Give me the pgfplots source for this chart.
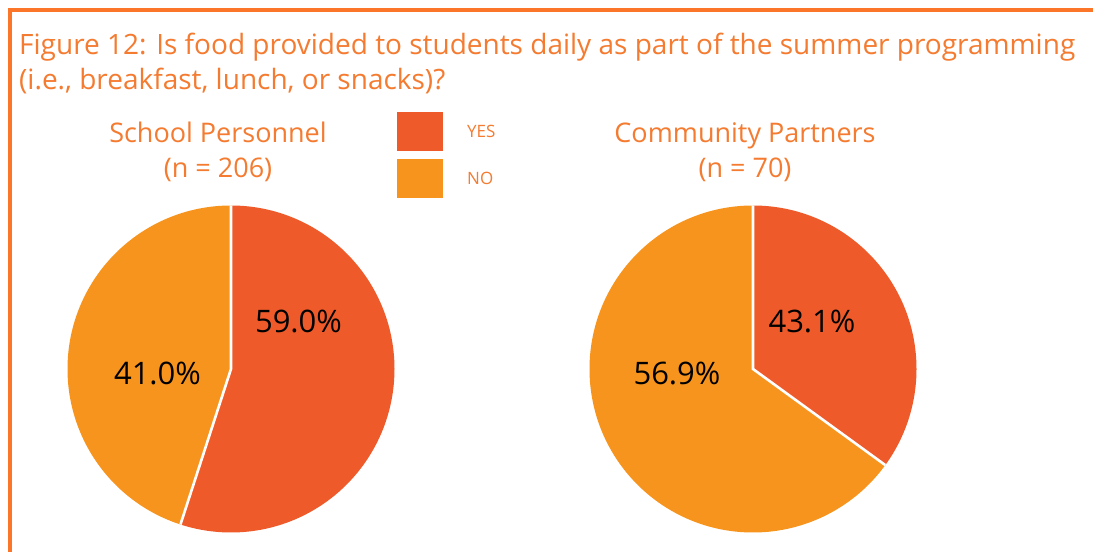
\documentclass[border=0pt]{standalone}
\usepackage{pgfplots}
\pgfplotsset{compat=1.18}
\usepackage{pgfplotstable}
\usepackage{fontspec}
\setmainfont{Open Sans}
\definecolor{yescol}{HTML}{EE5A2A}
\definecolor{nocol}{HTML}{F7941D}
\definecolor{txtcol}{HTML}{F47B30}
\definecolor{framecol}{HTML}{FB7628}

% share = slice as drawn (percent), label = printed value
\pgfplotstableread{
group share label
yes 55.0 59.0
no  45.0 41.0
}\schooltable
\pgfplotstableread{
group share label
yes 35.0 43.1
no  65.0 56.9
}\communitytable

\newcommand{\pie}[3]{% #1 table, #2 center x, #3 label nodes
\pgfplotstablegetelem{0}{share}\of#1\edef\yshare{\pgfplotsretval}%
\pgfplotstablegetelem{0}{label}\of#1\edef\ylab{\pgfplotsretval}%
\pgfplotstablegetelem{1}{label}\of#1\edef\nlab{\pgfplotsretval}%
\pgfmathsetmacro{\eang}{90-3.6*\yshare}%
\begin{axis}[hide axis, scale only axis, width=340pt, height=340pt,
  xmin=-170, xmax=170, ymin=-170, ymax=170, clip=false,
  at={(#2pt,183pt)}, anchor=center]
  \fill[yescol] (axis cs:0,0) -- (axis cs:0,163.5) arc[start angle=90, end angle=\eang, radius=163.5pt] -- cycle;
  \fill[nocol] (axis cs:0,0) -- (axis cs:0,163.5) arc[start angle=90, end angle=\eang+360, radius=163.5pt] -- cycle;
  \draw[white, line width=2.6pt] (axis cs:0,163.5) -- (axis cs:0,0) -- ++(\eang:163.5pt);
  #3
\end{axis}}

\begin{document}
\begin{tikzpicture}[x=1pt,y=1pt]
\useasboundingbox (0,0) rectangle (1093,552);
\fill[white] (0,0) rectangle (1093,552);
\draw[framecol, line width=4pt] (10,0) -- (10,542) -- (1093,542);
\node[anchor=base west, text=txtcol, font=\fontsize{28}{34}\selectfont, inner sep=0pt] at (19,497) {Figure 12: Is food provided to students daily as part of the summer programming};
\node[anchor=base west, text=txtcol, font=\fontsize{28}{34}\selectfont, inner sep=0pt] at (19,462) {(i.e., breakfast, lunch, or snacks)?};
% subtitles
\node[anchor=base, text=txtcol, font=\fontsize{27}{32}\selectfont, inner sep=0pt] at (218,409) {School Personnel};
\node[anchor=base, text=txtcol, font=\fontsize{27}{32}\selectfont, inner sep=0pt] at (218,374) {(n = 206)};
\node[anchor=base, text=txtcol, font=\fontsize{27}{32}\selectfont, inner sep=0pt] at (745,409) {Community Partners};
\node[anchor=base, text=txtcol, font=\fontsize{27}{32}\selectfont, inner sep=0pt] at (745,374) {(n = 70)};
% legend
\fill[yescol] (397,401) rectangle (443,440);
\fill[nocol] (397,354) rectangle (443,393);
\node[anchor=west, text=txtcol, font=\fontsize{17}{19}\selectfont, inner sep=0pt] at (467,421) {YES};
\node[anchor=west, text=txtcol, font=\fontsize{17}{19}\selectfont, inner sep=0pt] at (467,374) {NO};
\pie{\schooltable}{231}{%
  \node[anchor=base, font=\fontsize{31}{36}\selectfont] at (axis cs:67.5,36) {\ylab\%};
  \node[anchor=base, font=\fontsize{31}{36}\selectfont] at (axis cs:-73.5,-16) {\nlab\%};}
\pie{\communitytable}{753}{%
  \node[anchor=base, font=\fontsize{31}{36}\selectfont] at (axis cs:59,36) {\ylab\%};
  \node[anchor=base, font=\fontsize{31}{36}\selectfont] at (axis cs:-76,-16) {\nlab\%};}
\end{tikzpicture}
\end{document}
